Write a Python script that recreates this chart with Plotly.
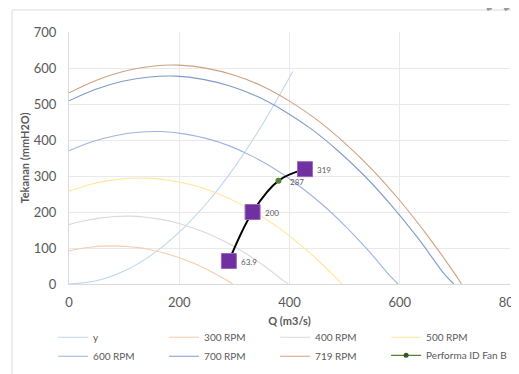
import plotly.graph_objects as go

# System curve "y"
q_y = [0, 50, 100, 150, 200, 250, 300, 350, 406]
h_y = [0, 9, 36, 81, 144, 225, 324, 441, 590]

# Fan curves (Q in m3/s, H in mmH2O)
q_300 = [0, 20.9, 41.7, 62.6, 83.4, 104.3, 125.2, 146, 166.9, 187.7, 208.6, 229.5, 250.3, 271.2, 292, 297]
h_300 = [92, 98.5, 102.9, 105.3, 105.9, 104.3, 101, 95.8, 88.4, 79.4, 68.2, 55.4, 40.4, 23.5, 4.9, 0]

q_400 = [0, 27.8, 55.6, 83.4, 111.3, 139.1, 166.9, 194.7, 222.5, 250.3, 278.2, 306, 333.8, 361.6, 389.4, 398]
h_400 = [165, 175.5, 183, 187.5, 188.5, 185.5, 179.5, 170.2, 157.2, 141.1, 121.3, 98.4, 71.8, 41.8, 8.7, 0]

q_500 = [0, 34.8, 69.5, 104.3, 139.1, 173.9, 208.6, 243.4, 278.2, 312.9, 347.7, 382.5, 417.2, 452, 486.8, 495]
h_500 = [258, 275, 286.5, 293, 294, 289.7, 280.5, 266, 245.7, 220.5, 189.6, 153.8, 112.2, 65.3, 13.5, 0]

q_600 = [0, 41.7, 83.5, 125.2, 166.9, 208.6, 250.4, 292.1, 333.8, 375.5, 417.3, 459, 500.7, 542.4, 584.2, 597]
h_600 = [370, 395, 412, 421.5, 423.5, 417.1, 403.9, 383, 353.8, 317.6, 273, 221.5, 161.6, 94, 19.5, 0]

q_700 = [0, 48.7, 97.4, 146, 194.7, 243.4, 292, 340.8, 389.4, 438, 486.8, 535.5, 584, 632.8, 681.5, 698]
h_700 = [509, 541, 563, 575, 577.5, 568.5, 550, 521.3, 481.5, 432.2, 371.6, 301.4, 219.9, 128, 26.5, 0]

q_719 = [0, 50, 100, 150, 200, 250, 300, 350, 400, 450, 500, 550, 600, 650, 700, 712]
h_719 = [531, 566, 591, 605, 608, 599, 580, 550, 508, 456, 392, 318, 232, 135, 28, 0]

# Operating points "Performa ID Fan B"
q_perf = [290, 333, 380, 428]
h_perf = [63.9, 200, 287, 319]
lbl_perf = ["63.9", "200", "287", "319"]

# Highlighted points (purple squares)
q_sq = [290, 333, 428]
h_sq = [63.9, 200, 319]

fan_series = [
    ("y", q_y, h_y, "#BDD7EE"),
    ("300 RPM", q_300, h_300, "#F8CBAD"),
    ("400 RPM", q_400, h_400, "#D9D9D9"),
    ("500 RPM", q_500, h_500, "#FFE699"),
    ("600 RPM", q_600, h_600, "#9DB5E0"),
    ("700 RPM", q_700, h_700, "#7F9CC8"),
    ("719 RPM", q_719, h_719, "#D0A080"),
]

fig = go.Figure()
for name, qx, hy, col in fan_series:
    fig.add_trace(go.Scatter(x=qx, y=hy, name=name, mode="lines",
                             line=dict(color=col, width=1.1, shape="spline"),
                             hoverinfo="skip"))

# Performance curve (drawn black), legend entry green
fig.add_trace(go.Scatter(x=q_perf, y=h_perf, mode="lines+markers",
                         line=dict(color="#000000", width=2, shape="spline"),
                         marker=dict(color="#548235", size=6),
                         showlegend=False))
fig.add_trace(go.Scatter(x=q_sq, y=h_sq, mode="markers",
                         marker=dict(symbol="square", size=15, color="#7030A0",
                                     line=dict(color="#9A66C2", width=1)),
                         showlegend=False))
fig.add_trace(go.Scatter(x=[None], y=[None], name="Performa ID Fan B",
                         mode="lines+markers", legend="legend2",
                         line=dict(color="#548235", width=1.2),
                         marker=dict(color="#375623", size=5)))

for qv, hv, lb in zip(q_perf, h_perf, lbl_perf):
    fig.add_annotation(x=qv, y=hv, text=lb, showarrow=False, xanchor="left",
                       xshift=10, yshift=-1, font=dict(size=8, color="#595959"))

legend_font = dict(size=10, color="#595959")

# page body has an 8px margin: figure is placed at (8, 8) on screen
fig.update_layout(
    width=511, height=366,
    margin=dict(l=61, r=9, t=24, b=90, autoexpand=False),
    paper_bgcolor="white", plot_bgcolor="white",
    font=dict(family="Lato, Open Sans, sans-serif", color="#595959", size=13),
    xaxis=dict(range=[0, 800], dtick=200, showgrid=True, gridcolor="#E9E9E9",
               gridwidth=1, zeroline=False, showline=True, linecolor="#D9D9D9",
               ticks="", ticklabelstandoff=6, automargin=False,
               ticklabeloverflow="allow",
               title=dict(text="<b>Q (m3/s)</b>", font=dict(size=11, color="#595959"),
                          standoff=8)),
    yaxis=dict(range=[0, 700], dtick=100, showgrid=True, gridcolor="#E9E9E9",
               gridwidth=1, zeroline=False, showline=True, linecolor="#D9D9D9",
               ticks="", ticklabelstandoff=9, automargin=False,
               title=dict(text="<b>Tekanan (mmH2O)</b>", font=dict(size=11, color="#595959"),
                          standoff=1)),
    legend=dict(orientation="h", x=-0.036, y=-0.154, xanchor="left", yanchor="top",
                entrywidth=66, entrywidthmode="pixels",
                font=legend_font, tracegroupgap=0, itemwidth=30),
    legend2=dict(orientation="h", x=-0.036 + 333 / 441, y=-0.154 - 18 / 252,
                 xanchor="left", yanchor="top",
                 font=legend_font, itemwidth=30),
    showlegend=True,
)

# outer chart frame (partially visible)
fig.add_shape(type="rect", xref="paper", yref="paper",
              x0=(12 - 69) / 441, x1=(530 - 69) / 441,
              y0=(284 - 400) / 252, y1=(284 - 10) / 252,
              line=dict(color="#D9D9D9", width=1), fillcolor="rgba(0,0,0,0)", layer="below")
# grey diagonal stripes at the top right
for xt0, xb0 in [(485.5, 490), (502, 507.5)]:
    fig.add_shape(type="line", xref="paper", yref="paper",
                  x0=(xt0 - 69) / 441, y0=(284 - 0) / 252,
                  x1=(xb0 - 69) / 441, y1=(284 - 10) / 252,
                  line=dict(color="#9A9A9A", width=5))

fig.write_html("out.html")
